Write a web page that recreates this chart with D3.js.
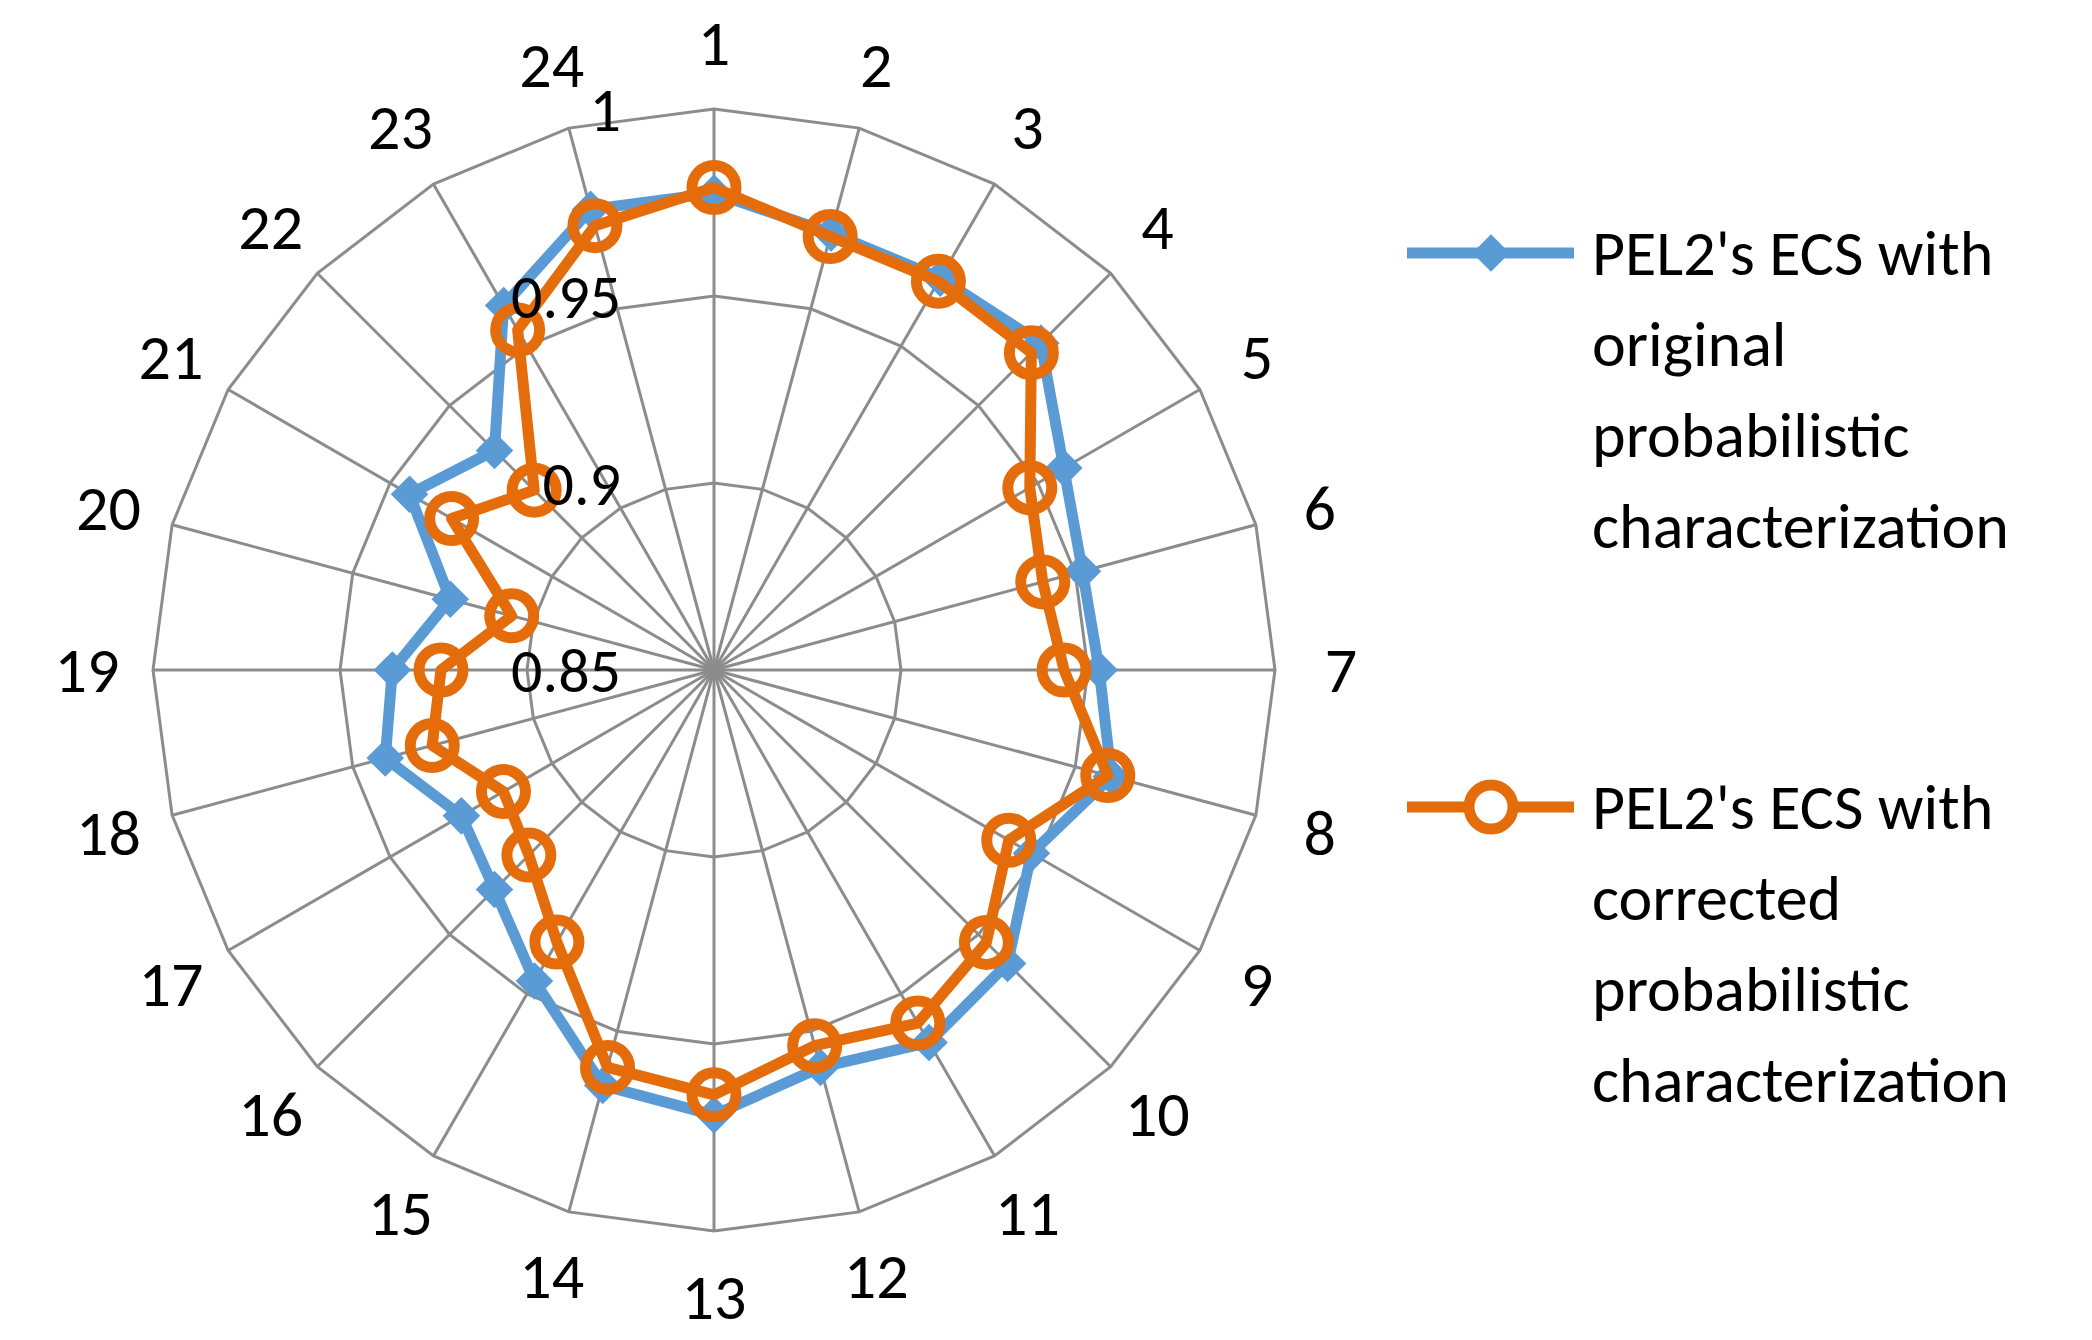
<!DOCTYPE html>
<html>
<head>
  <meta charset="utf-8">
  <style>
    body { margin: 0; background: #fff; font-family: Carlito, "Open Sans", sans-serif; }
  </style>
  <script src="https://d3js.org/d3.v7.min.js"></script>
</head>
<body>
  <script>
    var categories = d3.range(1, 25).map(String);
    var original = [0.9775, 0.971, 0.971, 0.9736, 0.958, 0.952, 0.953, 0.960, 0.948, 0.961, 0.965, 0.960,
                    0.969, 0.965, 0.946, 0.933, 0.928, 0.941, 0.936, 0.923, 0.944, 0.933, 0.9625, 0.9775];
    var corrected = [0.979, 0.970, 0.970, 0.970, 0.9475, 0.941, 0.9436, 0.959, 0.941, 0.953, 0.959, 0.954,
                     0.9636, 0.960, 0.934, 0.920, 0.915, 0.928, 0.923, 0.906, 0.931, 0.918, 0.955, 0.973];
    var ringValues = [0.9, 0.95, 1.0];
    var tickLabels = [[0.85, "0.85"], [0.9, "0.9"], [0.95, "0.95"], [1.0, "1"]];
    var seriesNames = [["PEL2's ECS with", "original", "probabilistic", "characterization"],
                       ["PEL2's ECS with", "corrected", "probabilistic", "characterization"]];

    var width = 2092, height = 1340;
    var cx = 714, cy = 670, R = 561;
    var blue = "#5B9BD5", orange = "#E46C0A";

    var svg = d3.select('body').append('svg').attr('width', width).attr('height', height);
    var g = svg.append('g').attr('transform', 'translate(' + cx + ',' + cy + ')');

    var r = d3.scaleLinear().domain([0.85, 1.0]).range([0, R]);
    var angle = d3.scalePoint().domain(categories).range([0, 2 * Math.PI * 23 / 24]);
    function pt(cat, v) {
      var a = angle(cat);
      return [r(v) * Math.sin(a), -r(v) * Math.cos(a)];
    }

    // rings
    g.selectAll('.ring').data(ringValues).enter().append('polygon')
      .attr('points', v => categories.map(c => pt(c, v).join(',')).join(' '))
      .attr('fill', 'none').attr('stroke', '#8c8c8c').attr('stroke-width', 3);

    // spokes
    g.selectAll('.spoke').data(categories).enter().append('line')
      .attr('x1', 0).attr('y1', 0)
      .attr('x2', c => pt(c, 1.0)[0]).attr('y2', c => pt(c, 1.0)[1])
      .attr('stroke', '#8c8c8c').attr('stroke-width', 3);

    // category labels
    g.selectAll('.cat').data(categories).enter().append('text')
      .attr('x', c => (R + 66) * Math.sin(angle(c)))
      .attr('y', c => -(R + 66) * Math.cos(angle(c)))
      .attr('dy', '0.35em').attr('text-anchor', 'middle')
      .attr('font-size', 64).text(c => c);

    var line = d3.line().curve(d3.curveLinearClosed);

    // original series
    var pO = categories.map((c, i) => pt(c, original[i]));
    g.append('path').attr('d', line(pO)).attr('fill', 'none')
      .attr('stroke', blue).attr('stroke-width', 11).attr('stroke-linejoin', 'round');
    g.selectAll('.dia').data(pO).enter().append('path')
      .attr('d', d3.symbol(d3.symbolDiamond2, 900))
      .attr('transform', d => 'translate(' + d[0] + ',' + d[1] + ')')
      .attr('fill', blue);

    // corrected series
    var pC = categories.map((c, i) => pt(c, corrected[i]));
    g.append('path').attr('d', line(pC)).attr('fill', 'none')
      .attr('stroke', orange).attr('stroke-width', 11).attr('stroke-linejoin', 'round');
    g.selectAll('.circ').data(pC).enter().append('circle')
      .attr('cx', d => d[0]).attr('cy', d => d[1]).attr('r', 22)
      .attr('fill', 'none').attr('stroke', orange).attr('stroke-width', 11);

    // value labels
    g.selectAll('.tick').data(tickLabels).enter().append('text')
      .attr('x', -93).attr('y', d => -r(d[0]))
      .attr('dy', '0.35em').attr('text-anchor', 'end')
      .attr('font-size', 62).text(d => d[1]);

    // legend
    var legend = svg.append('g');
    [[blue, 253], [orange, 807]].forEach(function (s, i) {
      var lg = legend.append('g').attr('transform', 'translate(1407,' + s[1] + ')');
      lg.append('line').attr('x1', 0).attr('x2', 167).attr('stroke', s[0]).attr('stroke-width', 11);
      if (i === 0) {
        lg.append('path').attr('d', d3.symbol(d3.symbolDiamond2, 900)).attr('transform', 'translate(84,0)').attr('fill', blue);
      } else {
        lg.append('circle').attr('cx', 84).attr('r', 22).attr('fill', '#fff').attr('stroke', orange).attr('stroke-width', 11);
      }
      seriesNames[i].forEach(function (t, j) {
        lg.append('text').attr('x', 185).attr('y', j * 91).attr('dy', '0.35em')
          .attr('font-size', 64).text(t);
      });
    });
  </script>
</body>
</html>
